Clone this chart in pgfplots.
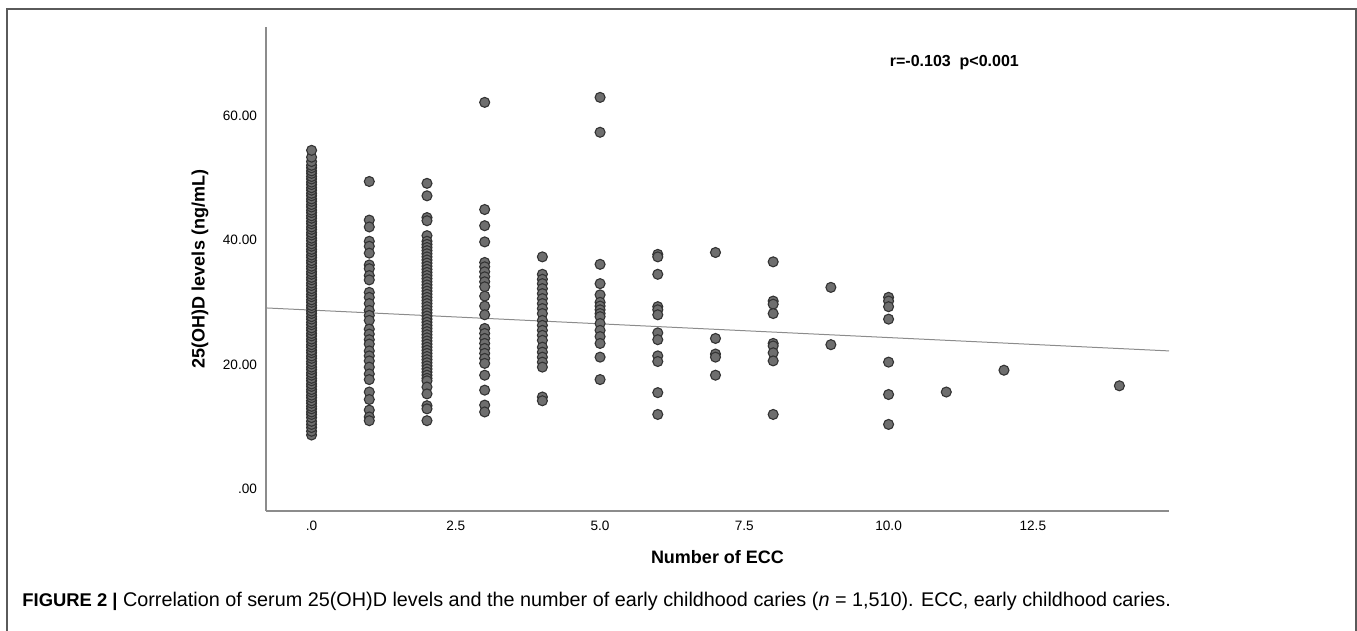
\documentclass[border=0pt]{standalone}
\usepackage{fontspec}
\setmainfont{Liberation Sans}
\usepackage{pgfplots}
\pgfplotsset{compat=1.18}
\definecolor{dotfill}{HTML}{6E6E6E}
\definecolor{dotedge}{HTML}{333333}
\definecolor{axisgray}{HTML}{8C8C8C}
\definecolor{framegray}{HTML}{5A5A5A}

% number of ECC vs 25(OH)D
\begin{document}
\begin{tikzpicture}[x=0.5pt,y=0.5pt]
\useasboundingbox (0,0) rectangle (1357,631);
\draw[framegray, line width=0.8pt] (7,0) -- (7,622) -- (1356,622) -- (1356,0);

\begin{axis}[
at={(133pt,60pt)}, anchor=south west,
scale only axis,
width=451.5pt, height=242pt,
xmin=-0.79, xmax=14.86,
ymin=-3.5, ymax=74.2,
axis x line=bottom, axis y line=left,
axis line style={-, draw=axisgray, line width=0.6pt},
major tick length=0pt,
xtick={0,2.5,5,7.5,10,12.5},
xticklabels={.0,2.5,5.0,7.5,10.0,12.5},
ytick={0,20,40,60},
yticklabels={.00,20.00,40.00,60.00},
tick label style={font=\fontsize{6.8}{8}\selectfont},
xticklabel style={yshift=-1.5pt},
yticklabel style={xshift=-1pt},
label style={font=\fontsize{9}{11}\selectfont\bfseries},
xlabel={Number of ECC},
ylabel={25(OH)D levels (ng/mL)},
xlabel style={at={(axis description cs:0.5,-0.095)}, anchor=center},
ylabel style={at={(axis description cs:-0.073,0.5)}, anchor=center},
]

\addplot[only marks, mark=*, mark size=2.5pt,
  mark options={fill=dotfill, draw=dotedge, line width=0.55pt}]
table {
x y
0 8.7
0 9.3
0 9.9
0 10.4
0 10.9
0 11.5
0 12.0
0 12.4
0 12.9
0 13.3
0 13.8
0 14.2
0 14.7
0 15.1
0 15.6
0 16.0
0 16.5
0 16.9
0 17.4
0 17.8
0 18.3
0 18.7
0 19.2
0 19.6
0 20.1
0 20.5
0 21.0
0 21.4
0 21.9
0 22.3
0 22.8
0 23.2
0 23.7
0 24.1
0 24.6
0 25.0
0 25.5
0 25.9
0 26.4
0 26.8
0 27.3
0 27.7
0 28.2
0 28.6
0 29.1
0 29.5
0 30.0
0 30.4
0 30.9
0 31.3
0 31.8
0 32.2
0 32.7
0 33.1
0 33.6
0 34.0
0 34.5
0 34.9
0 35.4
0 35.8
0 36.3
0 36.7
0 37.2
0 37.6
0 38.1
0 38.5
0 39.0
0 39.4
0 39.9
0 40.3
0 40.8
0 41.2
0 41.7
0 42.1
0 42.6
0 43.0
0 43.5
0 43.9
0 44.4
0 44.8
0 45.3
0 45.7
0 46.2
0 46.6
0 47.1
0 47.5
0 48.0
0 48.4
0 48.9
0 49.3
0 49.8
0 50.2
0 50.7
0 51.1
0 51.6
0 52.0
0 52.6
0 53.3
0 54.4
1 49.4
1 43.2
1 42.1
1 39.8
1 39.0
1 37.9
1 36.0
1 35.4
1 34.3
1 33.6
1 31.6
1 30.8
1 29.8
1 28.7
1 27.9
1 27.1
1 25.7
1 24.9
1 24.0
1 23.3
1 22.2
1 21.4
1 20.6
1 19.6
1 18.5
1 17.6
1 15.6
1 14.4
1 12.7
1 11.6
1 11.0
2 49.1
2 47.1
2 43.6
2 43.1
2 40.7
2 39.8
2 39.3
2 38.8
2 38.3
2 37.8
2 37.3
2 36.8
2 36.3
2 35.8
2 35.3
2 34.8
2 34.3
2 33.8
2 33.3
2 32.8
2 32.3
2 31.8
2 31.3
2 30.8
2 30.3
2 29.8
2 29.3
2 28.8
2 28.3
2 27.8
2 27.3
2 26.8
2 26.3
2 25.8
2 25.3
2 24.8
2 24.3
2 23.8
2 23.3
2 22.8
2 22.3
2 21.8
2 21.3
2 20.8
2 20.3
2 19.8
2 19.3
2 18.8
2 18.3
2 17.8
2 17.4
2 16.4
2 15.3
2 13.4
2 12.9
2 11.0
3 62.1
3 44.9
3 42.3
3 39.7
3 36.4
3 35.7
3 34.9
3 34.1
3 33.3
3 32.5
3 31.0
3 29.4
3 28.0
3 25.8
3 25.0
3 24.2
3 23.4
3 22.6
3 21.8
3 21.0
3 20.2
3 18.3
3 15.9
3 13.5
3 12.4
4 37.3
4 34.5
4 33.7
4 33.0
4 32.2
4 31.4
4 30.6
4 29.8
4 29.0
4 28.2
4 27.1
4 26.3
4 25.5
4 24.7
4 23.9
4 22.8
4 22.0
4 21.2
4 20.4
4 19.6
4 14.8
4 14.2
5 62.9
5 57.3
5 36.1
5 33.0
5 31.2
5 30.0
5 29.4
5 28.8
5 28.2
5 27.7
5 26.6
5 25.5
5 24.5
5 23.4
5 21.2
5 17.6
6 37.7
6 37.3
6 34.5
6 29.3
6 28.8
6 28.0
6 25.1
6 24.0
6 21.4
6 20.5
6 15.5
6 12.0
7 38.0
7 24.2
7 21.7
7 21.2
7 18.3
8 36.5
8 30.2
8 29.7
8 28.2
8 23.4
8 23.0
8 21.9
8 20.6
8 12.0
9 32.4
9 23.2
10 30.8
10 30.2
10 29.3
10 27.3
10 20.4
10 15.2
10 10.4
11 15.6
12 19.1
14 16.6
};

% fit line
\addplot[draw=axisgray, line width=0.5pt] coordinates {(-0.79,29.1) (14.86,22.2)};

\node[anchor=west, font=\fontsize{8}{10}\selectfont\bfseries] at (axis cs:9.9,68.5) {r=-0.103\ \ p<0.001};
\end{axis}

\node[anchor=west, inner sep=0pt, font=\fontsize{9.9}{12}\selectfont] at (22,30)
  {{\fontsize{9.2}{12}\selectfont\bfseries FIGURE 2 |} Correlation of serum 25(OH)D levels and the number of early childhood caries (\textit{n} = 1,510). ECC, early childhood caries.};
\end{tikzpicture}
\end{document}
